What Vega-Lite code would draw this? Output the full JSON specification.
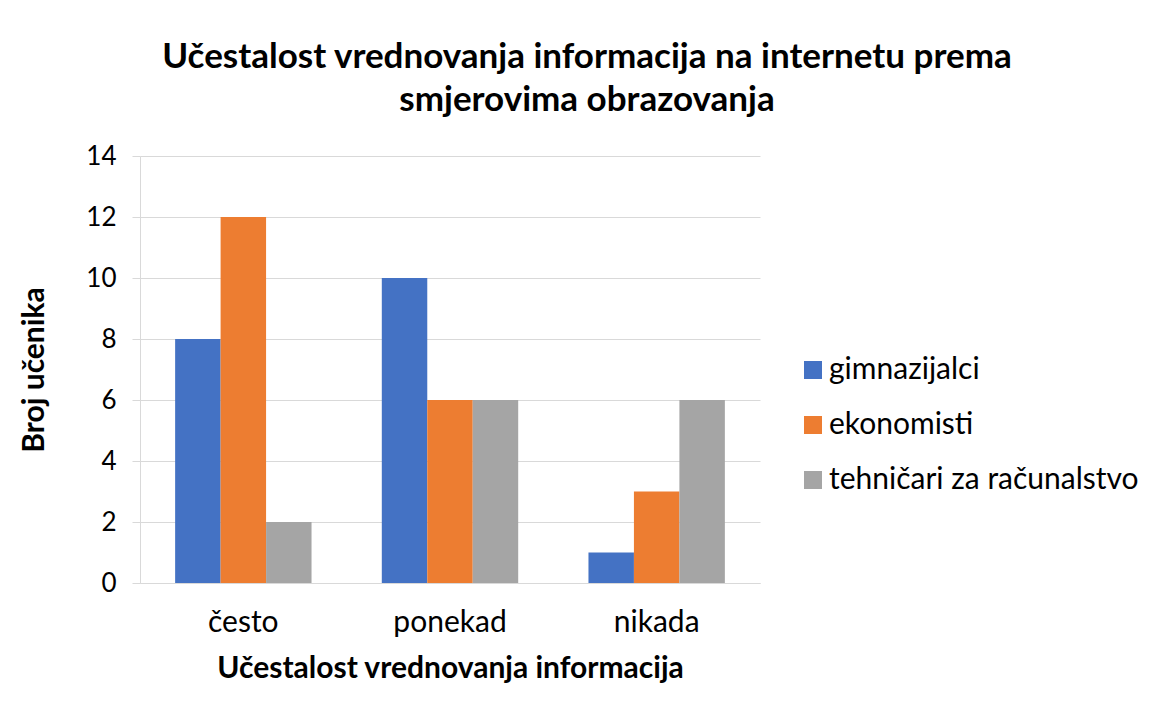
{
  "$schema": "https://vega.github.io/schema/vega-lite/v6.json",
  "autosize": "none",
  "width": 620,
  "height": 427,
  "padding": {"left": 140, "top": 156, "right": 393, "bottom": 132},
  "background": "white",
  "config": {
    "font": "Lato",
    "view": {"stroke": null}
  },
  "title": {
    "text": ["Učestalost vrednovanja informacija na internetu prema", "smjerovima obrazovanja"],
    "fontSize": 35,
    "fontWeight": "bold",
    "color": "#000000",
    "anchor": "middle",
    "dx": 137,
    "offset": 25,
    "lineHeight": 43
  },
  "data": {
    "values": [
      {"ucestalost": "često", "smjer": "gimnazijalci", "broj": 8},
      {"ucestalost": "često", "smjer": "ekonomisti", "broj": 12},
      {"ucestalost": "često", "smjer": "tehničari za računalstvo", "broj": 2},
      {"ucestalost": "ponekad", "smjer": "gimnazijalci", "broj": 10},
      {"ucestalost": "ponekad", "smjer": "ekonomisti", "broj": 6},
      {"ucestalost": "ponekad", "smjer": "tehničari za računalstvo", "broj": 6},
      {"ucestalost": "nikada", "smjer": "gimnazijalci", "broj": 1},
      {"ucestalost": "nikada", "smjer": "ekonomisti", "broj": 3},
      {"ucestalost": "nikada", "smjer": "tehničari za računalstvo", "broj": 6}
    ]
  },
  "mark": {"type": "bar"},
  "encoding": {
    "x": {
      "field": "ucestalost",
      "type": "nominal",
      "sort": ["često", "ponekad", "nikada"],
      "scale": {"paddingInner": 0.34, "paddingOuter": 0.17},
      "axis": {
        "title": "Učestalost vrednovanja informacija",
        "titleFontSize": 30,
        "titleFontWeight": "bold",
        "titleColor": "#000000",
        "titlePadding": 16,
        "labelFontSize": 30,
        "labelColor": "#000000",
        "labelAngle": 0,
        "labelPadding": 24,
        "ticks": false,
        "domainColor": "#D9D9D9",
        "domainWidth": 1
      }
    },
    "xOffset": {
      "field": "smjer",
      "type": "nominal",
      "sort": ["gimnazijalci", "ekonomisti", "tehničari za računalstvo"],
      "scale": {"paddingInner": 0, "paddingOuter": 0}
    },
    "y": {
      "field": "broj",
      "type": "quantitative",
      "scale": {"domain": [0, 14]},
      "axis": {
        "title": "Broj učenika",
        "titleFontSize": 30,
        "titleFontWeight": "bold",
        "titleColor": "#000000",
        "titlePadding": 36,
        "values": [0, 2, 4, 6, 8, 10, 12, 14],
        "labelFontSize": 26,
        "labelColor": "#000000",
        "labelPadding": 16,
        "tickSize": 8,
        "tickColor": "#D9D9D9",
        "domainColor": "#D9D9D9",
        "gridColor": "#D9D9D9",
        "grid": true
      }
    },
    "color": {
      "field": "smjer",
      "type": "nominal",
      "sort": ["gimnazijalci", "ekonomisti", "tehničari za računalstvo"],
      "scale": {
        "domain": ["gimnazijalci", "ekonomisti", "tehničari za računalstvo"],
        "range": ["#4472C4", "#ED7D31", "#A5A5A5"]
      },
      "legend": {
        "title": null,
        "orient": "none",
        "legendX": 658,
        "legendY": 199,
        "symbolType": "square",
        "symbolSize": 324,
        "symbolStrokeWidth": 0,
        "labelFontSize": 30,
        "labelColor": "#000000",
        "labelOffset": 1,
        "labelLimit": 500,
        "rowPadding": 25
      }
    }
  }
}
